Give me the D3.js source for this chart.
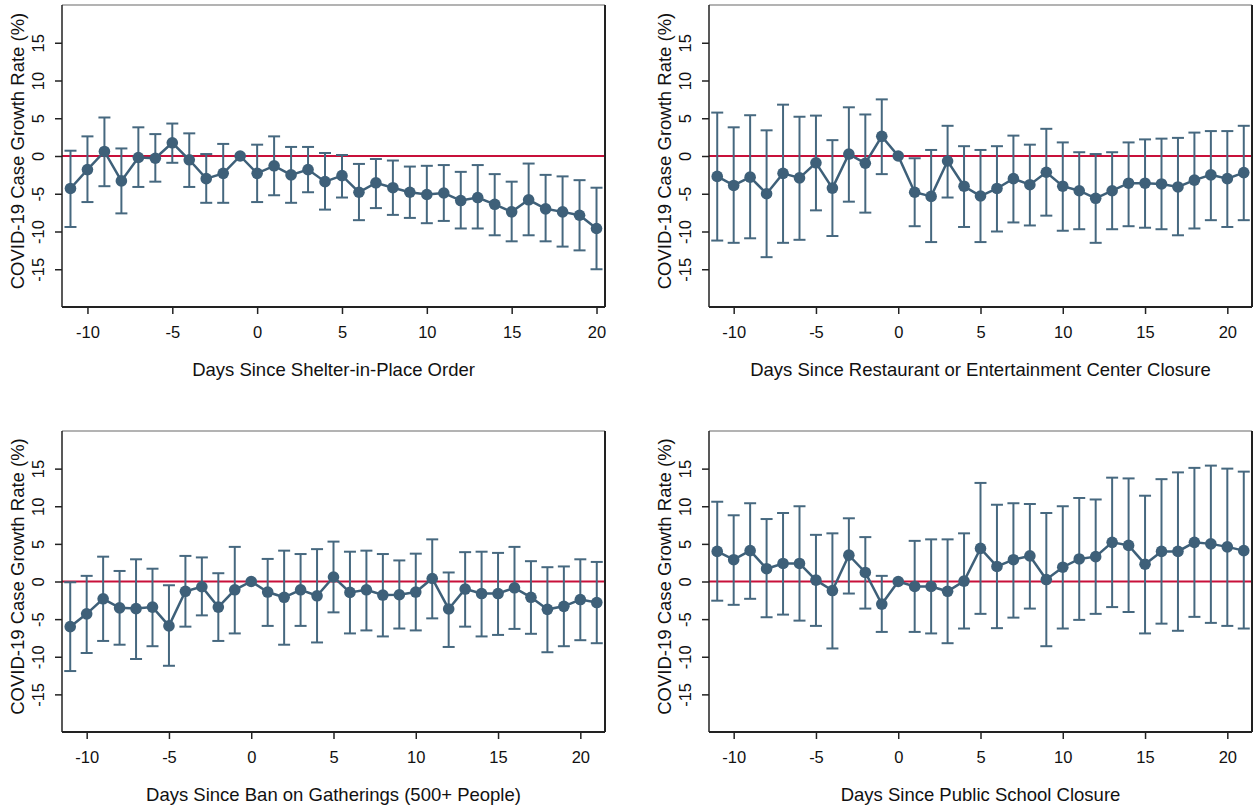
<!DOCTYPE html>
<html>
<head>
<meta charset="utf-8">
<script src="https://cdn.jsdelivr.net/npm/d3@7"></script>
<style>
  html, body { margin: 0; padding: 0; background: #fff; }
  svg { display: block; }
  text { font-family: "Liberation Sans", Arial, sans-serif; fill: #111; }
</style>
</head>
<body>
<svg id="chart" width="1258" height="812"></svg>
<script>
// ---------- DATA ----------
const xTickValues = [-10, -5, 0, 5, 10, 15, 20];
const yTickValues = [-15, -10, -5, 0, 5, 10, 15];
const yLabel = "COVID-19 Case Growth Rate (%)";

const titles = [
  "Days Since Shelter-in-Place Order",
  "Days Since Restaurant or Entertainment Center Closure",
  "Days Since Ban on Gatherings (500+ People)",
  "Days Since Public School Closure"
];

const days1 = d3.range(-11, 21);   // -11 .. 20
const days2 = d3.range(-11, 22);   // -11 .. 21

// Panel 1: Shelter-in-Place (reference day -1)
const p1Est = [-4.3,-1.8,0.6,-3.3,-0.2,-0.3,1.75,-0.5,-3.0,-2.3,0,
  -2.3,-1.3,-2.5,-1.8,-3.4,-2.6,-4.8,-3.55,-4.2,-4.8,-5.1,-4.9,-5.9,-5.5,-6.4,-7.4,-5.8,-7.0,-7.4,-7.85,-9.6];
const p1Hi = [0.7,2.6,5.1,1.0,3.8,2.9,4.3,3.0,0.26,1.6,null,
  1.5,2.6,1.2,1.2,0.4,0.13,-1.05,-0.4,-0.6,-1.4,-1.3,-1.2,-2.1,-1.2,-2.4,-3.4,-1.0,-2.5,-2.7,-3.2,-4.2];
const p1Lo = [-9.4,-6.1,-4.0,-7.6,-4.1,-3.4,-0.9,-4.1,-6.2,-6.2,null,
  -6.1,-5.2,-6.2,-4.8,-7.1,-5.5,-8.5,-6.9,-7.8,-8.2,-8.9,-8.6,-9.6,-9.6,-10.5,-11.3,-10.5,-11.3,-12.0,-12.5,-15.0];

// Panel 2: Restaurant / Entertainment closure (reference day 0)
const p2Est = [-2.7,-3.9,-2.8,-5.0,-2.3,-2.9,-0.9,-4.25,0.26,-0.96,2.6,0,
  -4.8,-5.35,-0.66,-4.0,-5.3,-4.3,-3.0,-3.8,-2.15,-4.0,-4.6,-5.6,-4.6,-3.6,-3.6,-3.7,-4.1,-3.2,-2.5,-3.0,-2.2];
const p2Hi = [5.75,3.8,5.4,3.4,6.8,5.2,5.35,2.1,6.45,5.5,7.5,null,
  -0.3,0.8,4.0,1.3,0.8,1.3,2.7,1.5,3.6,1.8,0.5,0.26,0.5,1.8,2.2,2.3,2.4,3.1,3.3,3.3,4.0];
const p2Lo = [-11.2,-11.5,-10.9,-13.4,-11.5,-11.1,-7.2,-10.6,-6.05,-7.5,-2.4,null,
  -9.3,-11.4,-5.5,-9.4,-11.4,-10.0,-8.8,-9.2,-7.9,-9.9,-9.7,-11.5,-9.7,-9.3,-9.5,-9.7,-10.5,-9.6,-8.5,-9.4,-8.5];

// Panel 3: Ban on gatherings (reference day 0)
const p3Est = [-6.0,-4.3,-2.3,-3.5,-3.6,-3.4,-5.9,-1.3,-0.7,-3.4,-1.1,0,
  -1.4,-2.1,-1.1,-1.9,0.6,-1.45,-1.1,-1.8,-1.76,-1.4,0.4,-3.65,-1.0,-1.6,-1.6,-0.84,-2.1,-3.7,-3.3,-2.4,-2.8];
const p3Hi = [-0.1,0.75,3.3,1.4,2.95,1.7,-0.5,3.4,3.2,1.1,4.6,null,
  3.0,4.1,3.65,4.3,5.3,3.96,4.1,3.65,2.8,3.7,5.6,1.2,3.9,3.96,3.8,4.6,2.7,1.9,2.0,2.95,2.6];
const p3Lo = [-11.9,-9.5,-7.9,-8.4,-10.3,-8.6,-11.2,-6.0,-4.5,-7.9,-6.9,null,
  -5.9,-8.4,-5.9,-8.1,-4.1,-6.9,-6.5,-7.3,-6.25,-6.5,-4.9,-8.7,-6.0,-7.3,-7.1,-6.3,-6.95,-9.4,-8.6,-7.8,-8.2];

// Panel 4: Public school closure (reference day 0)
const p4Est = [4.0,2.9,4.1,1.7,2.4,2.4,0.18,-1.2,3.5,1.2,-3.0,0,
  -0.66,-0.66,-1.3,0.05,4.4,2.0,2.9,3.4,0.26,1.9,3.0,3.3,5.2,4.8,2.3,4.0,4.0,5.2,5.0,4.6,4.1];
const p4Hi = [10.6,8.8,10.4,8.3,9.1,10.0,6.2,6.4,8.4,5.9,0.75,null,
  5.4,5.6,5.6,6.4,13.1,10.2,10.4,10.3,9.1,10.0,11.1,10.9,13.8,13.7,11.4,13.6,14.5,15.1,15.4,15.0,14.6];
const p4Lo = [-2.55,-3.1,-2.3,-4.75,-4.4,-5.2,-5.9,-8.9,-1.6,-3.6,-6.7,null,
  -6.7,-6.9,-8.2,-6.25,-4.3,-6.2,-4.8,-3.6,-8.6,-6.25,-5.1,-4.3,-3.4,-4.05,-6.9,-5.6,-6.55,-4.7,-5.5,-5.9,-6.25];

const panelsData = [
  { days: days1, est: p1Est, hi: p1Hi, lo: p1Lo, xMax: 20.5 },
  { days: days2, est: p2Est, hi: p2Hi, lo: p2Lo, xMax: 21.5 },
  { days: days2, est: p3Est, hi: p3Hi, lo: p3Lo, xMax: 21.5 },
  { days: days2, est: p4Est, hi: p4Hi, lo: p4Lo, xMax: 21.5 }
];

// ---------- LAYOUT ----------
const boxes = [
  { left: 62,  top: 5,   right: 605,  bottom: 307 },
  { left: 709, top: 5,   right: 1252, bottom: 307 },
  { left: 62,  top: 431, right: 605,  bottom: 732 },
  { left: 709, top: 431, right: 1252, bottom: 732 }
];

const navy = "#3e6079";
const red = "#c8103a";
const tickFont = 16.5;
const titleFont = 18.5;

const svg = d3.select("#chart");
svg.append("rect").attr("width", 1258).attr("height", 812).attr("fill", "#fff");

panelsData.forEach((p, i) => {
  const b = boxes[i];
  const x = d3.scaleLinear().domain([-11.5, p.xMax]).range([b.left, b.right]);
  const y = d3.scaleLinear().domain([-20, 20]).range([b.bottom, b.top]);
  const g = svg.append("g");

  // x axis
  const xAxis = d3.axisBottom(x).tickValues(xTickValues).tickSize(7).tickPadding(12)
    .tickFormat(d => d3.format("d")(d).replace("\u2212", "-"));
  const gx = g.append("g").attr("transform", `translate(0,${b.bottom})`).call(xAxis);
  gx.select(".domain").remove();
  gx.selectAll(".tick line").attr("stroke", "#222").attr("stroke-width", 1.5);
  gx.selectAll(".tick text").attr("font-size", tickFont).attr("fill", "#111")
    .attr("font-family", '"Liberation Sans", Arial, sans-serif');

  // y axis
  const yAxis = d3.axisLeft(y).tickValues(yTickValues).tickSize(7).tickPadding(0)
    .tickFormat(d => d3.format("d")(d).replace("\u2212", "-"));
  const gy = g.append("g").attr("transform", `translate(${b.left},0)`).call(yAxis);
  gy.select(".domain").remove();
  gy.selectAll(".tick line").attr("stroke", "#222").attr("stroke-width", 1.5);
  gy.selectAll(".tick text")
    .attr("font-size", tickFont).attr("fill", "#111")
    .attr("font-family", '"Liberation Sans", Arial, sans-serif')
    .attr("x", null).attr("dy", null)
    .attr("text-anchor", "middle")
    .attr("transform", "translate(-18,0) rotate(-90)")
    .attr("y", 0);

  // zero reference line
  g.append("line")
    .attr("x1", b.left).attr("x2", b.right)
    .attr("y1", y(0)).attr("y2", y(0))
    .attr("stroke", red).attr("stroke-width", 2.2);

  const pts = p.days.map((d, k) => ({ d, est: p.est[k], hi: p.hi[k], lo: p.lo[k] }));

  // error bars
  const eb = g.append("g").attr("stroke", "#46687f").attr("stroke-width", 2).attr("fill", "none");
  pts.filter(q => q.hi !== null).forEach(q => {
    const cx = x(q.d);
    eb.append("line").attr("x1", cx).attr("x2", cx).attr("y1", y(q.hi)).attr("y2", y(q.lo));
    eb.append("line").attr("x1", cx - 6).attr("x2", cx + 6).attr("y1", y(q.hi)).attr("y2", y(q.hi));
    eb.append("line").attr("x1", cx - 6).attr("x2", cx + 6).attr("y1", y(q.lo)).attr("y2", y(q.lo));
  });

  // connecting line
  g.append("path").datum(pts)
    .attr("d", d3.line().x(q => x(q.d)).y(q => y(q.est)))
    .attr("fill", "none").attr("stroke", navy).attr("stroke-width", 2.5);

  // markers
  g.selectAll("circle.m").data(pts).join("circle")
    .attr("class", "m")
    .attr("cx", q => x(q.d)).attr("cy", q => y(q.est)).attr("r", 5.8)
    .attr("fill", navy);

  // frame
  g.append("line").attr("x1", b.left).attr("x2", b.right).attr("y1", b.top).attr("y2", b.top)
    .attr("stroke", "#9a9a9a").attr("stroke-width", 1.5);
  g.append("line").attr("x1", b.left).attr("x2", b.left).attr("y1", b.top).attr("y2", b.bottom)
    .attr("stroke", "#222").attr("stroke-width", 1.5);
  g.append("line").attr("x1", b.right).attr("x2", b.right).attr("y1", b.top).attr("y2", b.bottom)
    .attr("stroke", "#222").attr("stroke-width", 2);
  g.append("line").attr("x1", b.left).attr("x2", b.right).attr("y1", b.bottom).attr("y2", b.bottom)
    .attr("stroke", "#222").attr("stroke-width", 2);

  // y label
  g.append("text")
    .attr("transform", `translate(${b.left - 44},${(b.top + b.bottom) / 2 - 5}) rotate(-90)`)
    .attr("text-anchor", "middle").attr("dy", "0.35em")
    .attr("font-size", titleFont)
    .text(yLabel);

  // x title
  g.append("text")
    .attr("x", (b.left + b.right) / 2).attr("y", b.bottom + 63)
    .attr("text-anchor", "middle").attr("dy", "0.35em")
    .attr("font-size", titleFont)
    .text(titles[i]);
});
</script>
</body>
</html>
